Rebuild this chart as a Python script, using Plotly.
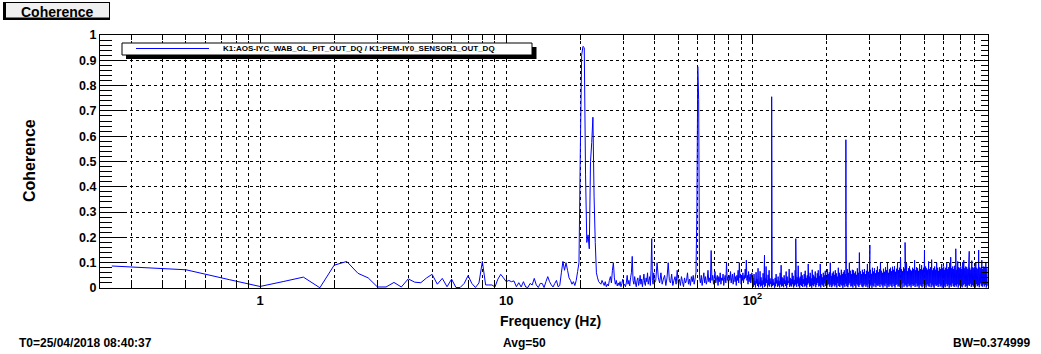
import numpy as np
import plotly.graph_objects as go

# ---------------- data ----------------
# coherence, 0.25 Hz bins from 0.25 Hz to 40 Hz
low_coh = [
    .087, .072, .033, .006, .026, .043, .001, .090,
    .105, .058, .040, .004, .004, .022, .004, .036,
    .023, .021, .040, .054, .015, .038, .005, .035,
    .002, .002, .018, .049, .018, .002, .020, .105,
    .012, .012, .012, .004, .035, .054, .040, .025,
    .030, .025, .028, .005, .021, .004, .025, .004,
    .002, .018, .012, .038, .012, .002, .018, .018,
    .002, .025, .045, .025, .012, .004, .018, .030,
    .005, .010, .060, .105, .070, .100, .070, .040,
    .030, .015, .025, .010, .030, .065, .100, .540,
    .920, .955, .950, .450, .180, .210, .155, .500,
    .575, .675, .360, .180, .060, .040, .025, .020,
    .015, .030, .020, .010, .025, .005, .015, .008,
    .030, .045, .020, .070, .100, .040, .015, .030,
    .008, .020, .010, .025, .005, .018, .035, .010,
    .015, .005, .020, .050, .015, .030, .008, .040,
    .060, .125, .030, .015, .045, .020, .005, .030,
    .040, .010, .025, .050, .015, .035, .005, .030,
    .055, .020, .010, .040, .025, .060, .015, .030,
    .045, .010, .070, .195, .030, .015, .060, .020,
]
# coherence, 0.5 Hz steps from 40.5 Hz to 100 Hz
mid_coh = [
    .030, .100, .040, .020, .060, .015, .035, .050, .010, .040,
    .100, .030, .020, .055, .010, .030, .045, .015, .070, .020,
    .035, .010, .045, .025, .005, .040, .020, .030, .060, .015,
    .035, .010, .045, .025, .050, .015, .035, .060, .300, .875,
    .745, .040, .020, .050, .010, .035, .060, .020, .045, .015,
    .030, .070, .025, .040, .020, .148, .030, .050, .015, .040,
    .065, .020, .035, .050, .010, .045, .025, .060, .015, .040,
    .030, .055, .010, .035, .050, .020, .100, .030, .045, .015,
    .050, .030, .065, .020, .040, .055, .015, .035, .060, .025,
    .045, .010, .050, .030, .070, .020, .100, .040, .055, .015,
    .045, .030, .060, .020, .050, .035, .075, .040, .110, .030,
    .050, .015, .065, .025, .045, .055, .020, .040, .060, .025,
]
# 100-900 Hz noise floor: local maxima / minima (x1000), alternating
hf_hi = [
    40, 55, 28, 62, 35, 78, 22, 66, 42, 30,
    58, 45, 38, 85, 32, 52, 70, 38, 25, 48,
    35, 22, 40, 55, 30, 45, 28, 60, 90, 42,
    38, 50, 30, 65, 45, 28, 75, 40, 35, 60,
    48, 32, 70, 55, 42, 88, 38, 45, 62, 50,
    35, 55, 68, 40, 50, 95, 45, 60, 38, 72,
    52, 45, 65, 40, 58, 70, 48, 95, 55, 42,
    60, 50, 68, 45, 75, 55, 62, 100, 48, 58,
    65, 52, 70, 58, 45, 80, 60, 50, 72, 55,
    62, 70, 55, 48, 75, 60, 100, 68, 55, 72,
    70, 58, 65, 52, 78, 60, 140, 66, 55, 72,
    62, 75, 55, 68, 95, 64, 58, 72, 56, 80,
    65, 78, 58, 70, 85, 62, 74, 100, 68, 60,
    76, 64, 82, 70, 98, 60, 74, 80, 66, 84,
    72, 86, 64, 76, 102, 70, 80, 120, 74, 66,
    82, 76, 70, 98, 66, 78, 86, 72, 68, 80,
    75, 110, 70, 82, 78, 68, 95, 75, 90, 72,
    80, 68, 85, 78, 72, 105, 75, 82, 112, 70,
    78, 85, 72, 100, 80, 68, 82, 75, 95, 78,
    85, 72, 80, 98, 75, 82, 100, 122, 78, 85,
    75, 88, 80, 72, 105, 82, 78, 85, 75, 102,
    110, 78, 85, 82, 75, 98, 80, 72, 108, 82,
    78, 85, 102, 80, 75, 96, 82, 78, 110, 75,
    85, 80, 100, 78,
]
hf_lo = [
    5, 12, 2, 18, 8, 3, 15, 6, 10, 1,
    14, 4, 9, 20, 2, 11, 6, 16, 3, 8,
    12, 1, 7, 18, 5, 10, 2, 14, 6, 9,
    3, 16, 8, 1, 12, 20, 4, 10, 6, 15,
    2, 9, 14, 5, 18, 7, 1, 12, 8, 4,
    16, 6, 10, 2, 13, 19, 5, 8, 1, 11,
    7, 15, 3, 12, 20, 6, 9, 2, 14, 10,
    4, 18, 8, 1, 11, 16, 5, 13, 3, 9,
    15, 6, 12, 2, 19, 8, 4, 14, 10, 1,
    11, 5, 17, 7, 3, 13, 20, 6, 9, 2,
    14, 8, 1, 16, 10, 4, 12, 18, 6, 3,
    9, 15, 5, 11, 2, 17, 7, 13, 1, 10,
    6, 19, 3, 12, 8, 14, 4, 16, 10, 2,
    13, 7, 18, 1, 11, 5, 15, 9, 3, 17,
    8, 2, 12, 16, 6, 10, 4, 14, 1, 19,
    5, 13, 9, 3, 17, 7, 11, 2, 15, 8,
    12, 4, 18, 6, 10, 1, 14, 8, 3, 16,
    7, 11, 2, 15, 9, 5, 19, 3, 13, 6,
    1, 14, 8, 12, 4, 17, 6, 10, 2, 15,
    9, 3, 16, 7, 13, 1, 11, 5, 18, 8,
    4, 12, 6, 15, 2, 10, 14, 7, 3, 11,
    16, 5, 9, 1, 13, 8, 17, 4, 12, 6,
    10, 2, 15, 7, 11, 3, 18, 9, 5, 14,
    6, 12, 2, 9,
]
# narrow lines above the noise floor
spike_freq = [112.0, 119.75, 120.0, 150.0, 239.75, 240.0, 300.0, 417.0, 500.0, 670.0, 760.0, 830.0]
spike_coh = [0.130, 0.756, 0.443, 0.195, 0.586, 0.267, 0.170, 0.180, 0.150, 0.155, 0.145, 0.150]

x_major = [1, 10, 100]
x_major_text = ["1", "10", "10<sup>2</sup>"]
x_minor = [0.3, 0.4, 0.5, 0.6, 0.7, 0.8, 0.9,
           2, 3, 4, 5, 6, 7, 8, 9,
           20, 30, 40, 50, 60, 70, 80, 90,
           200, 300, 400, 500, 600, 700, 800]
y_major = [round(0.1 * i, 1) for i in range(11)]
y_major_text = ["0", "0.1", "0.2", "0.3", "0.4", "0.5", "0.6", "0.7", "0.8", "0.9", "1"]

legend_text = "K1:AOS-IYC_WAB_OL_PIT_OUT_DQ / K1:PEM-IY0_SENSOR1_OUT_DQ"

# ---------------- assemble series ----------------
f_low = 0.25 * np.arange(1, len(low_coh) + 1)
f_mid = 40.0 + 0.5 * np.arange(1, len(mid_coh) + 1)
n_hf = len(hf_hi) + len(hf_lo)
f_hf = np.geomspace(100.6, 900.0, n_hf)
v_hf = np.empty(n_hf)
v_hf[0::2] = np.array(hf_hi) / 1000.0
v_hf[1::2] = np.array(hf_lo) / 1000.0

freq = np.concatenate([f_low, f_mid, f_hf, spike_freq])
coh = np.concatenate([low_coh, mid_coh, v_hf, spike_coh])
order = np.argsort(freq, kind="stable")
freq = freq[order]
coh = coh[order]

# ---------------- geometry helpers (pixels -> paper) ----------------
W, H = 1041, 354
L, R, T, B = 100, 988, 35, 288


def px(x):
    return (x - L) / (R - L)


def py(y):
    return (B - y) / (B - T)


FONT = "Liberation Sans"

fig = go.Figure()
fig.add_trace(go.Scatter(
    x=freq, y=coh, mode="lines",
    line=dict(color="#0000ff", width=1, simplify=False),
    showlegend=False, hoverinfo="skip",
))
# carrier trace for the mirrored (top/right) tick axes
fig.add_trace(go.Scatter(x=[1], y=[0.5], xaxis="x2", yaxis="y2", mode="lines",
                         showlegend=False, hoverinfo="skip"))

grid = dict(gridcolor="black", gridwidth=1, griddash="dot")
xr = [-0.650, 2.957]

fig.update_layout(
    width=W, height=H,
    margin=dict(l=L, r=W - R, t=T, b=H - B, pad=0),
    paper_bgcolor="white", plot_bgcolor="white",
    font=dict(family=FONT, color="black"),
    xaxis=dict(
        type="log", range=xr, tickmode="array", tickvals=x_major, ticktext=x_major_text,
        ticks="inside", ticklen=12, tickwidth=1, tickcolor="black",
        showline=True, linecolor="black", linewidth=1, mirror=True,
        showgrid=True, zeroline=False, **grid,
        tickfont=dict(family=FONT, size=13, weight="bold", color="black"),
        minor=dict(tickmode="array", tickvals=x_minor, ticks="inside", ticklen=8,
                   tickcolor="black", tickwidth=1, showgrid=True, **grid),
    ),
    yaxis=dict(
        range=[0, 1], tickmode="array", tickvals=y_major, ticktext=y_major_text,
        ticks="inside", ticklen=25, tickwidth=1, tickcolor="black",
        showline=True, linecolor="black", linewidth=1, mirror=True,
        showgrid=True, zeroline=False, **grid,
        tickfont=dict(family=FONT, size=12.5, weight="bold", color="black"),
        minor=dict(dtick=0.02, ticks="inside", ticklen=12, tickcolor="black",
                   tickwidth=1, showgrid=False),
    ),
    xaxis2=dict(
        type="log", range=xr, overlaying="x", side="top", anchor="y2",
        tickmode="array", tickvals=x_major, ticks="inside", ticklen=8,
        tickcolor="black", showticklabels=False, showgrid=False, showline=False,
        zeroline=False,
        minor=dict(tickmode="array", tickvals=x_minor, ticks="inside", ticklen=5,
                   tickcolor="black", showgrid=False),
    ),
    yaxis2=dict(
        range=[0, 1], overlaying="y", side="right", anchor="x2",
        tickmode="array", tickvals=y_major, ticks="inside", ticklen=13,
        tickcolor="black", showticklabels=False, showgrid=False, showline=False,
        zeroline=False,
        minor=dict(dtick=0.02, ticks="inside", ticklen=7, tickcolor="black",
                   showgrid=False),
    ),
)

shapes = [
    # title box (dark border thicker on left / bottom)
    dict(type="rect", xref="paper", yref="paper", x0=px(3), x1=px(110), y0=py(20), y1=py(2),
         fillcolor="black", line=dict(width=0), layer="above"),
    dict(type="rect", xref="paper", yref="paper", x0=px(6), x1=px(109), y0=py(17.5), y1=py(3),
         fillcolor="#f0f0f0", line=dict(width=0), layer="above"),
    # legend shadow + box
    dict(type="rect", xref="paper", yref="paper", x0=px(126), x1=px(536.5), y0=py(59), y1=py(47),
         fillcolor="black", line=dict(width=0), layer="above"),
    dict(type="rect", xref="paper", yref="paper", x0=px(122), x1=px(532), y0=py(55), y1=py(43),
         fillcolor="white", line=dict(color="black", width=1), layer="above"),
    dict(type="line", xref="paper", yref="paper", x0=px(136), x1=px(209), y0=py(48.5), y1=py(48.5),
         line=dict(color="#0000ff", width=1), layer="above"),
]
fig.update_layout(shapes=shapes)

bold = lambda s: dict(family=FONT, size=s, weight="bold", color="black")
ann = [
    dict(text="Coherence", x=px(57.5), y=py(11.5), font=bold(14), xanchor="center", yanchor="middle"),
    dict(text=legend_text, x=px(358.7), y=py(48.8), font=bold(8), xanchor="center", yanchor="middle"),
    dict(text="Frequency (Hz)", x=px(550), y=py(321), font=bold(14), xanchor="center", yanchor="middle"),
    dict(text="Coherence", x=px(29), y=py(161), font=bold(16), textangle=-90,
         xanchor="center", yanchor="middle"),
    dict(text="T0=25/04/2018 08:40:37", x=px(17), y=py(343), font=bold(12), xanchor="left", yanchor="middle"),
    dict(text="Avg=50", x=px(524), y=py(343), font=bold(12), xanchor="center", yanchor="middle"),
    dict(text="BW=0.374999", x=px(1032), y=py(343), font=bold(12), xanchor="right", yanchor="middle"),
]
for a in ann:
    a.update(xref="paper", yref="paper", showarrow=False)
fig.update_layout(annotations=ann)

fig.write_html("out.html")
